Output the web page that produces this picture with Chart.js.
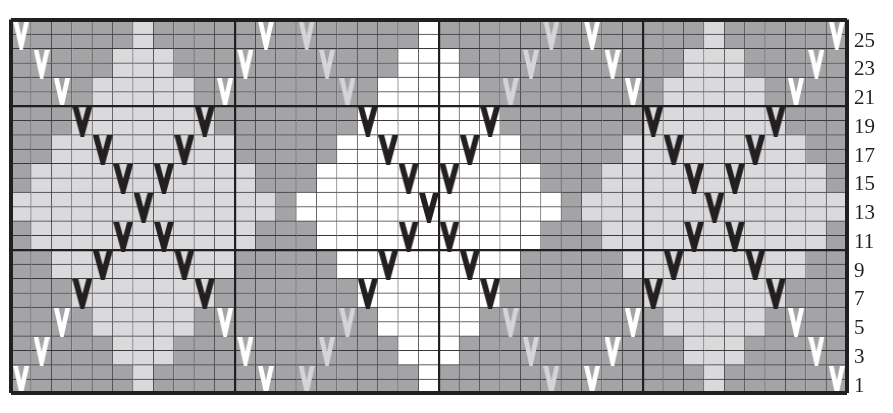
<!DOCTYPE html>
<html>
<head>
<meta charset="utf-8">
<script src="https://cdn.jsdelivr.net/npm/chart.js@4.4.1/dist/chart.umd.min.js"></script>
<style>
  html, body { margin: 0; padding: 0; background: #fff; }
  #wrap { width: 893px; height: 413px; }
</style>
</head>
<body>
<div id="wrap"><canvas id="graph"></canvas></div>
<script>
// stitch columns, left to right
const columns = ['1','2','3','4','5','6','7','8','9','10','11','12','13','14','15','16','17','18','19','20',
                 '21','22','23','24','25','26','27','28','29','30','31','32','33','34','35','36','37','38','39','40','41'];

// row numbers shown on the right, top row (26) first
const rowLabels = ['', '25', '', '23', '', '21', '', '19', '', '17', '', '15', '', '13',
                   '', '11', '', '9', '', '7', '', '5', '', '3', '', '1'];

// cell colours, row 26 (top) down to row 1; D dark grey, L light grey, W white
const cellRows = [
  'DDDDDDLDDDDDD D DDDDDDWDDDDDD D DDDDDDLDDDDDD',
  'DDDDDDLDDDDDD D DDDDDDWDDDDDD D DDDDDDLDDDDDD',
  'DDDDDLLLDDDDD D DDDDDWWWDDDDD D DDDDDLLLDDDDD',
  'DDDDDLLLDDDDD D DDDDDWWWDDDDD D DDDDDLLLDDDDD',
  'DDDDLLLLLDDDD D DDDDWWWWWDDDD D DDDDLLLLLDDDD',
  'DDDDLLLLLDDDD D DDDDWWWWWDDDD D DDDDLLLLLDDDD',
  'DDDLLLLLLLDDD D DDDWWWWWWWDDD D DDDLLLLLLLDDD',
  'DDDLLLLLLLDDD D DDDWWWWWWWDDD D DDDLLLLLLLDDD',
  'DDLLLLLLLLLDD D DDWWWWWWWWWDD D DDLLLLLLLLLDD',
  'DDLLLLLLLLLDD D DDWWWWWWWWWDD D DDLLLLLLLLLDD',
  'DLLLLLLLLLLLD D DWWWWWWWWWWWD D DLLLLLLLLLLLD',
  'DLLLLLLLLLLLD D DWWWWWWWWWWWD D DLLLLLLLLLLLD',
  'LLLLLLLLLLLLL D WWWWWWWWWWWWW D LLLLLLLLLLLLL',
  'LLLLLLLLLLLLL D WWWWWWWWWWWWW D LLLLLLLLLLLLL',
  'DLLLLLLLLLLLD D DWWWWWWWWWWWD D DLLLLLLLLLLLD',
  'DLLLLLLLLLLLD D DWWWWWWWWWWWD D DLLLLLLLLLLLD',
  'DDLLLLLLLLLDD D DDWWWWWWWWWDD D DDLLLLLLLLLDD',
  'DDLLLLLLLLLDD D DDWWWWWWWWWDD D DDLLLLLLLLLDD',
  'DDDLLLLLLLDDD D DDDWWWWWWWDDD D DDDLLLLLLLDDD',
  'DDDLLLLLLLDDD D DDDWWWWWWWDDD D DDDLLLLLLLDDD',
  'DDDDLLLLLDDDD D DDDDWWWWWDDDD D DDDDLLLLLDDDD',
  'DDDDLLLLLDDDD D DDDDWWWWWDDDD D DDDDLLLLLDDDD',
  'DDDDDLLLDDDDD D DDDDDWWWDDDDD D DDDDDLLLDDDDD',
  'DDDDDLLLDDDDD D DDDDDWWWDDDDD D DDDDDLLLDDDDD',
  'DDDDDDLDDDDDD D DDDDDDWDDDDDD D DDDDDDLDDDDDD',
  'DDDDDDLDDDDDD D DDDDDDWDDDDDD D DDDDDDLDDDDDD'
];

// slip-stitch V marks, each covering two rows; bands from rows 25-26 down to rows 1-2
// w white V, g pale grey V, k black V
const vBands = [
  'w...........w . g...........g . w...........w',
  '.w.........w. . .g.........g. . .w.........w.',
  '..w.......w.. . ..g.......g.. . ..w.......w..',
  '...k.....k... . ...k.....k... . ...k.....k...',
  '....k...k.... . ....k...k.... . ....k...k....',
  '.....k.k..... . .....k.k..... . .....k.k.....',
  '......k...... . ......k...... . ......k......',
  '.....k.k..... . .....k.k..... . .....k.k.....',
  '....k...k.... . ....k...k.... . ....k...k....',
  '...k.....k... . ...k.....k... . ...k.....k...',
  '..w.......w.. . ..g.......g.. . ..w.......w..',
  '.w.........w. . .g.........g. . .w.........w.',
  'w...........w . g...........g . w...........w'
];

const cellColours = { D: '#a4a4a7', L: '#dadadc', W: '#ffffff' };
const ink = '#231f20';
const hairline = '#3a3839';

function makeV(color, w, h, t, tip) {
  const c = document.createElement('canvas');
  c.width = w; c.height = h;
  const g = c.getContext('2d');
  const half = w / 2;
  const innerY = (half - t) * h / (half - tip / 2);
  g.fillStyle = color;
  g.beginPath();
  g.moveTo(0, 0);
  g.lineTo(t, 0);
  g.lineTo(half, innerY);
  g.lineTo(w - t, 0);
  g.lineTo(w, 0);
  g.lineTo(half + tip / 2, h);
  g.lineTo(half - tip / 2, h);
  g.closePath();
  g.fill();
  return c;
}

const vStyles = {
  w: makeV('#ffffff', 16, 29, 4.8, 3),
  g: makeV('#d5d5d7', 16, 29, 4.8, 3),
  k: makeV(ink, 20, 30, 6, 3.6)
};

const strip = s => s.replace(/ /g, '');

const datasets = [];
for (let r = 1; r <= 26; r++) {
  const pattern = strip(cellRows[26 - r]);
  datasets.push({
    type: 'bar',
    label: 'row ' + r,
    data: columns.map(() => 1),
    backgroundColor: pattern.split('').map(ch => cellColours[ch]),
    borderColor: hairline,
    borderWidth: { top: 1, right: 1, bottom: 0, left: 0 },
    borderSkipped: false,
    barPercentage: 1,
    categoryPercentage: 1,
    stack: 'cells',
    yAxisID: 'y',
    order: 1
  });
}

['w', 'g', 'k'].forEach(kind => {
  const pts = [];
  vBands.forEach((band, i) => {
    const b = 13 - i;
    strip(band).split('').forEach((ch, j) => {
      if (ch === kind) pts.push({ x: columns[j], y: 2 * b - 1.1 });
    });
  });
  datasets.push({
    type: 'scatter',
    label: 'V ' + kind,
    data: pts,
    pointStyle: vStyles[kind],
    pointRadius: 10,
    pointHoverRadius: 10,
    xAxisID: 'x',
    yAxisID: 'yv',
    order: 0
  });
});

// every tenth column / row gets a heavier rule, the outside gets the frame
const xRule = i => (i === undefined || i === 0) ? 4 : (i > 1 && i % 10 === 1 ? 2.2 : 0);
const yRule = i => (i === 0 || i === 26) ? 4 : (i % 10 === 0 ? 2.2 : 0);

const config = {
  type: 'bar',
  data: { labels: columns, datasets: datasets },
  options: {
    responsive: true,
    maintainAspectRatio: false,
    animation: false,
    events: [],
    layout: { padding: { left: 9.5, top: 7, right: 0, bottom: 8 } },
    plugins: { legend: { display: false }, tooltip: { enabled: false } },
    scales: {
      x: {
        type: 'category',
        offset: true,
        grid: {
          z: 1,
          offset: true,
          drawTicks: false,
          color: ctx => xRule(ctx.index) ? ink : 'rgba(0,0,0,0)',
          lineWidth: ctx => xRule(ctx.index)
        },
        ticks: { display: false },
        border: { display: false },
        afterFit: s => { s.height = 0; }
      },
      y: {
        type: 'linear',
        position: 'left',
        min: 0,
        max: 26,
        stacked: true,
        grid: {
          z: 1,
          drawTicks: false,
          color: ctx => yRule(ctx.index) ? ink : 'rgba(0,0,0,0)',
          lineWidth: ctx => yRule(ctx.index)
        },
        ticks: { display: false, stepSize: 1 },
        border: { display: false },
        afterFit: s => { s.width = 0; }
      },
      yv: {
        type: 'linear',
        display: false,
        min: 0,
        max: 26
      },
      y2: {
        type: 'category',
        position: 'right',
        labels: rowLabels,
        offset: true,
        grid: { display: false, drawTicks: false },
        border: { display: false },
        ticks: {
          autoSkip: false,
          padding: 7,
          color: ink,
          font: { family: '"Liberation Serif", "DejaVu Serif", serif', size: 21 }
        },
        afterFit: s => { s.width = 46; }
      }
    }
  }
};

const graph = document.querySelector('#graph');
new Chart(graph, config);
</script>
</body>
</html>
